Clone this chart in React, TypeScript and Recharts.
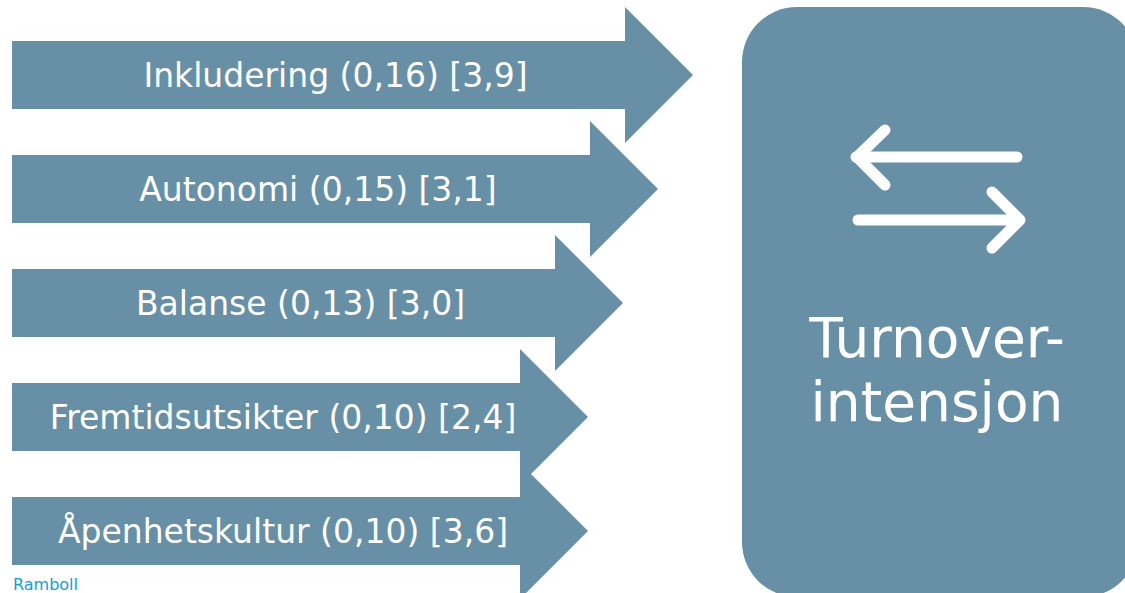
import React from "react";
import { BarChart, Bar, XAxis, YAxis, Customized } from "recharts";

// driver names, correlation with turnover intention and mean score
const drivers = ["Inkludering", "Autonomi", "Balanse", "Fremtidsutsikter", "Åpenhetskultur"];
const correlations = ["0,16", "0,15", "0,13", "0,10", "0,10"];
const means = ["3,9", "3,1", "3,0", "2,4", "3,6"];
// arrow reach, in chart units (1 unit = 1px on the x axis)
const arrowLength = [681, 646, 611, 576, 576];

const data = drivers.map((name, i) => ({
  name,
  label: `${name} (${correlations[i]}) [${means[i]}]`,
  length: arrowLength[i],
}));

const BLUE = "#678FA6";
const FONT = "'DejaVu Sans', Verdana, sans-serif";
const HEAD = 68;

const ArrowShape = (props: any) => {
  const { x, y, width, height, payload } = props;
  const tip = x + width;
  const shaftEnd = tip - HEAD;
  const cy = y + height / 2;
  const d = [
    `M${x},${y}`,
    `L${shaftEnd},${y}`,
    `L${shaftEnd},${cy - HEAD}`,
    `L${tip},${cy}`,
    `L${shaftEnd},${cy + HEAD}`,
    `L${shaftEnd},${y + height}`,
    `L${x},${y + height}`,
    "Z",
  ].join(" ");
  return (
    <g>
      <path d={d} fill={BLUE} />
      <text
        x={(x + shaftEnd) / 2 + 17}
        y={cy + 11.5}
        textAnchor="middle"
        fill="#fff"
        fontFamily={FONT}
        fontSize={33}
      >
        {payload.label}
      </text>
    </g>
  );
};

// outcome box with the exchange icon
const OutcomeBox = () => (
  <g>
    <rect x={742} y={7} width={396} height={590} rx={55} ry={55} fill={BLUE} />
    <g stroke="#fff" strokeWidth={11} strokeLinecap="round" strokeLinejoin="round" fill="none">
      <line x1={856} y1={157} x2={1017} y2={157} />
      <polyline points="885,130 857,157 885,185" />
      <line x1={858} y1={220} x2={1019} y2={220} />
      <polyline points="992,192 1020,220 992,248" />
    </g>
    <text x={937} y={357} textAnchor="middle" fill="#fff" fontFamily={FONT} fontSize={55}>
      Turnover-
    </text>
    <text x={937} y={421} textAnchor="middle" fill="#fff" fontFamily={FONT} fontSize={55}>
      intensjon
    </text>
    <text x={13} y={590} fill="#0FA0DC" fontFamily={FONT} fontSize={16}>
      Ramboll
    </text>
  </g>
);

export default function App() {
  return (
    <div style={{ position: "absolute", left: 0, top: 0, background: "#fff" }}>
      <BarChart
        width={1125}
        height={593}
        data={data}
        layout="vertical"
        margin={{ top: 18, right: 0, bottom: 5, left: 12 }}
      >
        <XAxis type="number" hide domain={[0, 1113]} />
        <YAxis type="category" dataKey="name" hide />
        <Customized component={OutcomeBox} />
        <Bar dataKey="length" barSize={68} shape={ArrowShape} isAnimationActive={false} />
      </BarChart>
    </div>
  );
}
